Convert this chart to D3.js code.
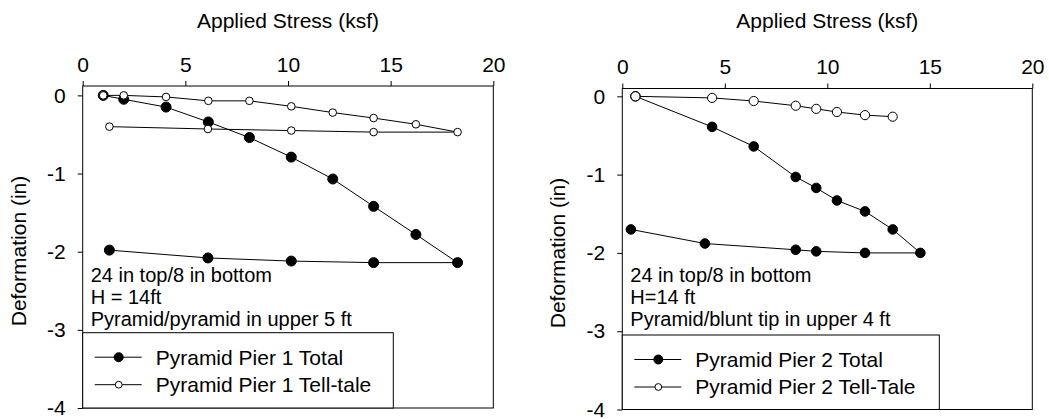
<!DOCTYPE html>
<html>
<head>
<meta charset="utf-8">
<script src="https://cdn.jsdelivr.net/npm/d3@7"></script>
<style>
  body { margin: 0; background: #fff; }
  svg { font-family: "Liberation Sans", Arial, sans-serif; }
</style>
</head>
<body>
<svg width="1049" height="419"></svg>
<script>
// pier 1 (left panel): loading then unloading
var pier1Stress   = [1.0, 2.0, 4.06, 6.12, 8.12, 10.16, 12.18, 14.17, 16.23, 18.26, 14.17, 10.16, 6.1, 1.3];
var pier1Total    = [0, -0.05, -0.15, -0.34, -0.54, -0.79, -1.07, -1.42, -1.78, -2.14, -2.14, -2.12, -2.08, -1.98];
var pier1TellTale = [0, 0, -0.02, -0.07, -0.07, -0.14, -0.22, -0.29, -0.37, -0.47, -0.47, -0.45, -0.43, -0.40];

// pier 2 (right panel)
var pier2Stress   = [0.64, 4.38, 6.41, 8.46, 9.46, 10.47, 11.84, 13.19, 14.54, 11.84, 9.46, 8.46, 4.03, 0.42];
var pier2Total    = [0, -0.39, -0.64, -1.03, -1.17, -1.33, -1.47, -1.70, -2.0, -2.0, -1.98, -1.96, -1.88, -1.70];
var pier2TellStress = [0.64, 4.38, 6.41, 8.46, 9.46, 10.47, 11.84, 13.19];
var pier2TellTale   = [0, -0.02, -0.06, -0.12, -0.16, -0.20, -0.24, -0.26];

var xTicks = [0, 5, 10, 15, 20];
var yTicks = [0, -1, -2, -3, -4];

var pier1Notes = ["24 in top/8 in bottom", "H = 14ft", "Pyramid/pyramid in upper 5 ft"];
var pier2Notes = ["24 in top/8 in bottom", "H=14 ft", "Pyramid/blunt tip in upper 4 ft"];
var pier1Legend = ["Pyramid Pier 1 Total", "Pyramid Pier 1 Tell-tale"];
var pier2Legend = ["Pyramid Pier 2 Total", "Pyramid Pier 2 Tell-Tale"];

var zip = function(xs, ys) {
  return xs.map(function(x, i) { return {x: x, y: ys[i]}; });
};

var svg = d3.select("svg");

var drawPanel = function(p) {
  var g = svg.append("g");

  var x = d3.scaleLinear().domain([0, 20]).range([p.left, p.right]),
      y = d3.scaleLinear().domain([-4, p.yMax]).range([p.bottom, p.top]);

  var line = d3.line()
      .x(function(d) { return x(d.x); })
      .y(function(d) { return y(d.y); });

  g.append("g")
      .attr("transform", "translate(0," + p.top + ")")
      .call(d3.axisTop(x).tickValues(xTicks).tickSize(5).tickSizeOuter(0).tickPadding(p.xPad))
      .call(function(a) { a.select(".domain").remove(); });

  g.append("g")
      .attr("transform", "translate(" + p.left + ",0)")
      .call(d3.axisLeft(y).tickValues(yTicks).tickSize(5).tickSizeOuter(0).tickPadding(12)
        .tickFormat(function(d) { return String(d); }))
      .call(function(a) { a.select(".domain").remove(); });

  g.selectAll(".tick text").style("font-size", "21px").attr("fill", "#000");
  g.selectAll(".tick line").attr("stroke", "#000");

  g.append("rect")
      .attr("x", p.left).attr("y", p.top)
      .attr("width", p.right - p.left).attr("height", p.bottom - p.top)
      .attr("fill", "none").attr("stroke", "#000");

  g.append("text")
      .attr("x", (p.left + p.right) / 2).attr("y", 28)
      .attr("text-anchor", "middle")
      .style("font-size", "21px")
      .text("Applied Stress (ksf)");

  g.append("text")
      .attr("transform", "translate(" + (p.left - 57) + "," + ((p.top + p.bottom) / 2 + 4) + ") rotate(-90)")
      .attr("text-anchor", "middle")
      .style("font-size", "21px")
      .text("Deformation (in)");

  // series
  p.series.forEach(function(s) {
    g.append("path")
        .attr("d", line(s.values))
        .attr("fill", "none")
        .attr("stroke", "#000")
        .attr("stroke-width", 1);
  });
  p.series.forEach(function(s) {
    g.selectAll(null)
      .data(s.values)
      .enter().append("circle")
        .attr("cx", function(d) { return x(d.x); })
        .attr("cy", function(d) { return y(d.y); })
        .attr("r", s.r)
        .attr("fill", s.filled ? "#000" : "#fff")
        .attr("stroke", "#000")
        .attr("stroke-width", 1);
  });

  g.selectAll(".note")
    .data(p.notes)
    .enter().append("text")
      .attr("x", p.left + 8)
      .attr("y", function(d, i) { return p.noteY + i * 22; })
      .style("font-size", "20px")
      .text(function(d) { return d; });

  // legend
  var lg = g.append("g");
  lg.append("rect")
      .attr("x", p.left).attr("y", p.legTop)
      .attr("width", p.legWidth).attr("height", p.bottom - p.legTop)
      .attr("fill", "#fff").attr("stroke", "#000");

  var rows = lg.selectAll(".row")
    .data(p.legend)
    .enter().append("g")
      .attr("transform", function(d, i) { return "translate(" + p.left + "," + (p.legTop + 24.5 + i * 27.5) + ")"; });

  rows.append("line")
      .attr("x1", 12).attr("x2", 59)
      .attr("stroke", "#000");
  rows.append("circle")
      .attr("cx", 36)
      .attr("r", function(d, i) { return i === 0 ? 4.5 : 3.4; })
      .attr("fill", function(d, i) { return i === 0 ? "#000" : "#fff"; })
      .attr("stroke", "#000");
  rows.append("text")
      .attr("x", 73)
      .attr("dy", "0.35em")
      .style("font-size", "21px")
      .text(function(d) { return d; });
};

drawPanel({
  left: 82.7, right: 493.3, top: 86, bottom: 408, yMax: 0.12, xPad: 9,
  series: [
    {values: zip(pier1Stress, pier1Total), filled: true, r: 5},
    {values: zip(pier1Stress, pier1TellTale), filled: false, r: 3.8}
  ],
  notes: pier1Notes, noteY: 282,
  legend: pier1Legend, legTop: 332.7, legWidth: 310.6
});

drawPanel({
  left: 622.3, right: 1032.3, top: 88.5, bottom: 409.5, yMax: 0.1, xPad: 10,
  series: [
    {values: zip(pier2Stress, pier2Total), filled: true, r: 4.8},
    {values: zip(pier2TellStress, pier2TellTale), filled: false, r: 4.6}
  ],
  notes: pier2Notes, noteY: 282,
  legend: pier2Legend, legTop: 335, legWidth: 317
});
</script>
</body>
</html>
